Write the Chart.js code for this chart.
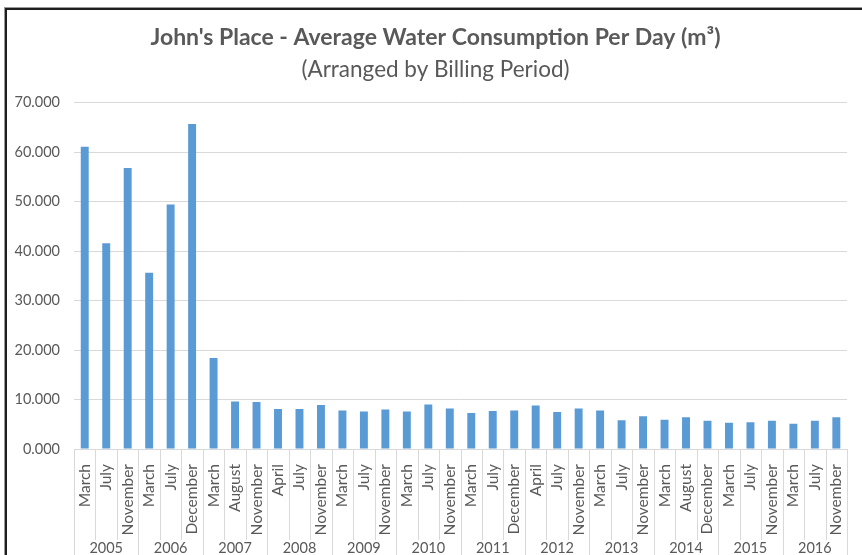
<!DOCTYPE html>
<html>
<head>
<meta charset="utf-8">
<script src="https://cdn.jsdelivr.net/npm/chart.js@4/dist/chart.umd.min.js"></script>
<style>
    html, body { margin: 0; padding: 0; background: #fff; overflow: hidden; }
    #wrap { position: relative; width: 862px; height: 565px; }
    #frame {
        position: absolute; left: 5px; top: 8px; width: 900px; height: 600px;
        border-top: 2px solid #1e1e1e; border-left: 2px solid #1e1e1e;
        box-shadow: -1px -1px 0 #9a9a9a; pointer-events: none;
    }
</style>
</head>
<body>
<div id="wrap">
    <canvas id="waterChart" width="862" height="565"></canvas>
    <div id="frame"></div>
</div>
<script>
// Billing periods (one bar each), grouped three per year
const periods = [
    'March', 'July', 'November',
    'March', 'July', 'December',
    'March', 'August', 'November',
    'April', 'July', 'November',
    'March', 'July', 'November',
    'March', 'July', 'November',
    'March', 'July', 'December',
    'April', 'July', 'November',
    'March', 'July', 'November',
    'March', 'August', 'December',
    'March', 'July', 'November',
    'March', 'July', 'November'
];
const years = ['2005', '2006', '2007', '2008', '2009', '2010', '2011', '2012', '2013', '2014', '2015', '2016'];
const periodsPerYear = [3, 3, 3, 3, 3, 3, 3, 3, 3, 3, 3, 3];

// Average consumption per day (m3)
const consumption = [
    61.1, 41.6, 56.8,
    35.6, 49.4, 65.7,
    18.4, 9.6, 9.5,
    8.1, 8.1, 8.9,
    7.8, 7.6, 8.0,
    7.6, 9.0, 8.2,
    7.3, 7.7, 7.8,
    8.8, 7.5, 8.2,
    7.8, 5.8, 6.6,
    5.9, 6.4, 5.7,
    5.3, 5.4, 5.7,
    5.1, 5.7, 6.4
];

const yTickLabels = ['0.000', '10.000', '20.000', '30.000', '40.000', '50.000', '60.000', '70.000'];

const textColor = '#595959';
const lineColor = '#d9d9d9';

Chart.defaults.font.family = 'Lato';
Chart.defaults.color = textColor;

// Excel style separators between the period labels and between years
const separators = {
    id: 'separators',
    afterDraw(chart) {
        const x = chart.scales.x;
        const area = chart.chartArea;
        const ctx = chart.ctx;
        ctx.save();
        ctx.strokeStyle = lineColor;
        ctx.lineWidth = 1;
        let yearEdges = [0];
        let acc = 0;
        periodsPerYear.forEach(n => { acc += n; yearEdges.push(acc); });
        for (let i = 0; i <= periods.length; i++) {
            let px;
            if (i === 0) px = area.left;
            else if (i === periods.length) px = area.right;
            else px = (x.getPixelForValue(i - 1) + x.getPixelForValue(i)) / 2;
            px = Math.round(px) + 0.5;
            const bottom = yearEdges.includes(i) ? chart.height : x.bottom;
            ctx.beginPath();
            ctx.moveTo(px, area.bottom);
            ctx.lineTo(px, bottom);
            ctx.stroke();
        }
        ctx.restore();
    }
};

const ctx = document.getElementById('waterChart').getContext('2d');
const waterChart = new Chart(ctx, {
    type: 'bar',
    data: {
        labels: periods,
        datasets: [{
            label: 'Average Water Consumption Per Day',
            data: consumption,
            backgroundColor: '#5b9bd5',
            borderWidth: 0,
            categoryPercentage: 1,
            barPercentage: 0.37
        }]
    },
    options: {
        responsive: false,
        animation: false,
        layout: {
            padding: { top: 14, left: 14, right: 5, bottom: 0 }
        },
        plugins: {
            legend: { display: false },
            tooltip: { enabled: false },
            title: {
                display: true,
                text: "John's Place - Average Water Consumption Per Day (m³)",
                color: textColor,
                font: { size: 23, weight: 'bold' },
                padding: { top: 10, bottom: 2 }
            },
            subtitle: {
                display: true,
                text: '(Arranged by Billing Period)',
                color: textColor,
                font: { size: 22.5 },
                padding: { top: 2.5, bottom: 19.5 }
            }
        },
        scales: {
            y: {
                min: 0,
                max: 70,
                ticks: {
                    stepSize: 10,
                    padding: 14,
                    font: { size: 14.5 },
                    callback: (v, i) => yTickLabels[i]
                },
                grid: { color: lineColor, drawTicks: false },
                border: { display: false },
                afterFit: scale => { scale.width = 60; }
            },
            x: {
                weight: 0,
                ticks: {
                    autoSkip: false,
                    minRotation: 90,
                    maxRotation: 90,
                    padding: 7,
                    font: { size: 15.5 }
                },
                grid: { display: false },
                border: { display: false },
                afterFit: scale => { scale.height = 91; }
            },
            x2: {
                type: 'category',
                position: 'bottom',
                weight: 1,
                offset: true,
                labels: years,
                ticks: {
                    autoSkip: false,
                    maxRotation: 0,
                    padding: -8,
                    font: { size: 14.5 }
                },
                grid: { display: false },
                border: { display: false },
                afterFit: scale => { scale.height = 25; }
            }
        }
    },
    plugins: [separators]
});
</script>
</body>
</html>
